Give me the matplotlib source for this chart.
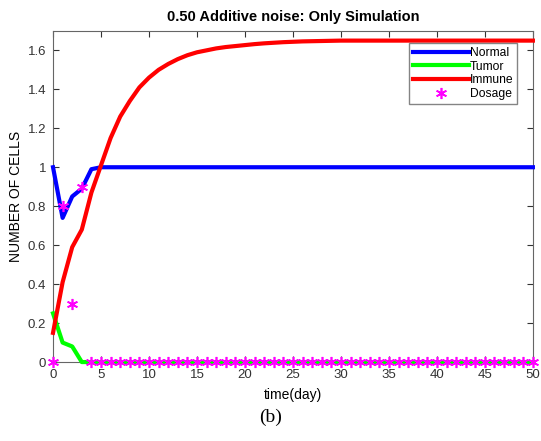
import matplotlib
matplotlib.use("Agg")
import matplotlib.pyplot as plt
from matplotlib.ticker import FormatStrFormatter

plt.rcParams['font.family'] = ['Liberation Sans', 'DejaVu Sans']

# days 0..50
days = list(range(51))

normal = [1.0, 0.74, 0.85, 0.89, 0.99] + [1.0] * 46
tumor = [0.25, 0.10, 0.08, 0.0] + [0.0] * 47
immune = [0.15, 0.41, 0.59, 0.68, 0.87, 1.01, 1.15, 1.26, 1.34, 1.41,
          1.46, 1.50, 1.53, 1.555, 1.575, 1.59, 1.60, 1.61, 1.617, 1.622,
          1.627, 1.632, 1.636, 1.639, 1.642, 1.644, 1.646, 1.647, 1.648, 1.649] + [1.65] * 21
dosage = [0.0, 0.8, 0.3, 0.9] + [0.0] * 47

fig = plt.figure(figsize=(5.41, 4.41), dpi=100)
ax = fig.add_axes([0.098, 0.179, 0.887, 0.751])

ax.plot(days, normal, color='#0000ff', lw=3, label='Normal', clip_on=False, zorder=3)
ax.plot(days, tumor, color='#00ff00', lw=3, label='Tumor', clip_on=False, zorder=3)
ax.plot(days, immune, color='#ff0000', lw=3, label='Immune', clip_on=False, zorder=3)
# asterisk markers like MATLAB '*'
ax.plot(days, dosage, ls='none', marker=(6, 2, 0), color='#ff00ff',
        mec='#ff00ff', ms=8, mew=1.2, label='Dosage', clip_on=False, zorder=5)

ax.set_xlim(0, 50)
ax.set_ylim(0, 1.7)
ax.set_xticks(range(0, 51, 5))
ax.set_yticks([0, 0.2, 0.4, 0.6, 0.8, 1.0, 1.2, 1.4, 1.6])
ax.yaxis.set_major_formatter(FormatStrFormatter('%g'))
ax.tick_params(direction='in', top=True, right=True, labelsize=9.5,
               colors='#333333', length=4, pad=5)
for s in ax.spines.values():
    s.set_color('#666666')

ax.set_title('0.50 Additive noise: Only Simulation', fontsize=10.5,
             fontweight='bold', pad=7)
ax.set_xlabel('time(day)', fontsize=10, labelpad=5)
ax.set_ylabel('NUMBER OF CELLS', fontsize=10, labelpad=3)

leg = ax.legend(loc='upper right', bbox_to_anchor=(0.967, 0.963),
                fontsize=8.7, frameon=True, fancybox=False,
                borderpad=0.3, labelspacing=0.15, handlelength=4.6,
                handletextpad=0.1, borderaxespad=0)
leg.get_frame().set_edgecolor('#666666')
leg.get_frame().set_linewidth(1)
leg.set_zorder(10)

fig.text(0.5, 0.053, '(b)', fontsize=14, family='Liberation Serif',
         ha='center', va='center')

fig.savefig('out.png', dpi=100)
